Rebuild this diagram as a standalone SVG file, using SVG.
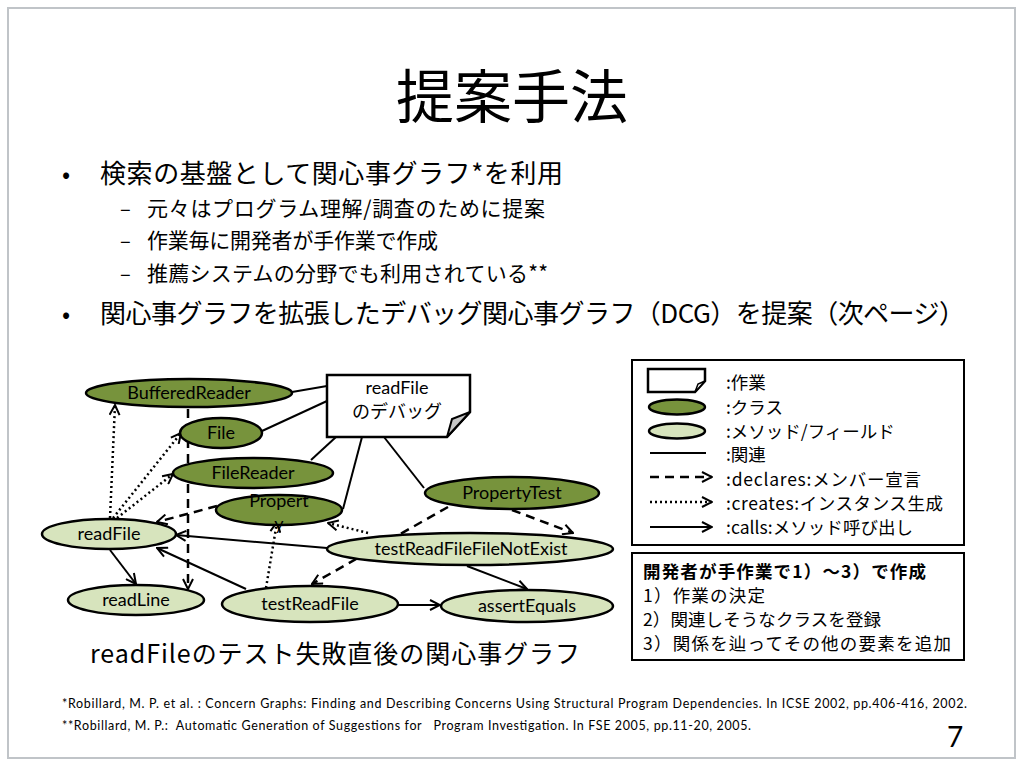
<svg xmlns="http://www.w3.org/2000/svg" width="1024" height="768" viewBox="0 0 1024 768">
<defs>
<style>
.jp{font-family:"Noto Sans CJK JP","Noto Sans",sans-serif;fill:#000}
.lb{font-family:Lato,"Noto Sans CJK JP",sans-serif;font-size:18px;fill:#000;text-anchor:middle}
.dark{fill:#77933c;stroke:#000;stroke-width:2.5}
.light{fill:#d7e4bd;stroke:#000;stroke-width:2.5}
.assoc{stroke:#000;stroke-width:2;fill:none}
.calls{stroke:#000;stroke-width:2;fill:none;marker-end:url(#arr)}
.decl{stroke:#000;stroke-width:2.5;fill:none;stroke-dasharray:9,6;marker-end:url(#arr)}
.crt{stroke:#000;stroke-width:2.5;fill:none;stroke-dasharray:2,3;marker-end:url(#arr)}
.box{fill:#fff;stroke:#000;stroke-width:2}
.ref{font-family:Lato,"Liberation Sans",sans-serif;font-size:12.5px;fill:#000}
</style>
<marker id="arr" viewBox="0 0 12 12" refX="11" refY="6" markerWidth="12" markerHeight="12" markerUnits="userSpaceOnUse" orient="auto">
<path d="M1,1 L11,6 L1,11" fill="none" stroke="#000" stroke-width="2" stroke-dasharray="none"/>
</marker>
</defs>
<rect x="0" y="0" width="1024" height="768" fill="#fff"/>
<rect x="8" y="8" width="1007" height="750" fill="#fff" stroke="#c0c4c8" stroke-width="2"/>

<text x="512" y="118" class="jp" font-size="58" text-anchor="middle">提案手法</text>

<g id="bullets">
<text x="62" y="183" class="jp" font-size="24">•</text>
<text x="100" y="183" class="jp" font-size="26" textLength="463">検索の基盤として関心事グラフ*を利用</text>
<text x="120" y="216" class="jp" font-size="20">–</text>
<text x="147" y="216" class="jp" font-size="21" textLength="398">元々はプログラム理解/調査のために提案</text>
<text x="120" y="248" class="jp" font-size="20">–</text>
<text x="147" y="248" class="jp" font-size="21" textLength="291">作業毎に開発者が手作業で作成</text>
<text x="120" y="281" class="jp" font-size="20">–</text>
<text x="147" y="281" class="jp" font-size="21" textLength="401">推薦システムの分野でも利用されている**</text>
<text x="62" y="323" class="jp" font-size="24">•</text>
<text x="100" y="323" class="jp" font-size="26" textLength="865">関心事グラフを拡張したデバッグ関心事グラフ（DCG）を提案（次ページ）</text>
</g>

<g id="connectors">
<line class="assoc" x1="327" y1="386" x2="292" y2="392"/>
<line class="assoc" x1="327" y1="401" x2="262" y2="431"/>
<line class="assoc" x1="336" y1="437" x2="311" y2="460"/>
<line class="assoc" x1="362" y1="437" x2="343" y2="509"/>
<line class="assoc" x1="384" y1="437" x2="424" y2="488"/>
<line class="decl" x1="188" y1="409" x2="188" y2="589"/>
<line class="decl" x1="217" y1="506" x2="157" y2="522"/>
<line class="decl" x1="448" y1="507" x2="312" y2="584"/>
<line class="decl" x1="512" y1="510" x2="573" y2="533"/>
<line class="crt" x1="110" y1="518" x2="115" y2="405"/>
<line class="crt" x1="113" y1="518" x2="181" y2="433"/>
<line class="crt" x1="117" y1="518" x2="173" y2="474"/>
<line class="crt" x1="266" y1="588" x2="277" y2="522"/>
<line class="crt" x1="368" y1="533" x2="328" y2="523"/>
<line class="calls" x1="327" y1="548" x2="176" y2="535"/>
<line class="calls" x1="246" y1="589" x2="157" y2="548"/>
<line class="calls" x1="110" y1="550" x2="136" y2="584"/>
<line class="calls" x1="398" y1="605" x2="440" y2="605"/>
<line class="calls" x1="467" y1="566" x2="527" y2="589"/>
</g>

<g id="note-readFile">
<path d="M327,375 H470 V412 L447,437 H327 Z" fill="#fff" stroke="#000" stroke-width="2.5"/>
<path d="M447,437 L452,419 L470,412 Z" fill="#c8c8c8" stroke="#000" stroke-width="2"/>
<text x="397" y="394" class="lb">readFile</text>
<text x="397" y="418" class="lb">のデバッグ</text>
</g>

<g id="node-BufferedReader">
<ellipse class="dark" cx="189" cy="393" rx="103" ry="14"/>
<text x="189" y="399" class="lb">BufferedReader</text>
</g>
<g id="node-File">
<ellipse class="dark" cx="221" cy="433" rx="41" ry="15"/>
<text x="221" y="439" class="lb">File</text>
</g>
<g id="node-FileReader">
<ellipse class="dark" cx="253" cy="473" rx="80" ry="15"/>
<text x="253" y="479" class="lb">FileReader</text>
</g>
<g id="node-Property">
<ellipse class="dark" cx="279" cy="510" rx="63" ry="15"/>
<text x="279" y="507" class="lb">Propert</text>
<text x="279" y="530" class="lb">y</text>
</g>
<g id="node-PropertyTest">
<ellipse class="dark" cx="512" cy="493" rx="87" ry="16"/>
<text x="512" y="499" class="lb">PropertyTest</text>
</g>
<g id="node-readFile">
<ellipse class="light" cx="109" cy="534" rx="67" ry="15"/>
<text x="109" y="540" class="lb">readFile</text>
</g>
<g id="node-testReadFileFileNotExist">
<ellipse class="light" cx="470" cy="549" rx="143" ry="16"/>
<text x="471" y="555" class="lb">testReadFileFileNotExist</text>
</g>
<g id="node-readLine">
<ellipse class="light" cx="136" cy="600" rx="68" ry="15"/>
<text x="136" y="606" class="lb">readLine</text>
</g>
<g id="node-testReadFile">
<ellipse class="light" cx="310" cy="604" rx="88" ry="18"/>
<text x="310" y="610" class="lb">testReadFile</text>
</g>
<g id="node-assertEquals">
<ellipse class="light" cx="527" cy="606" rx="86" ry="16"/>
<text x="527" y="612" class="lb">assertEquals</text>
</g>

<text x="90" y="663" class="jp" font-size="25" textLength="490">readFileのテスト失敗直後の関心事グラフ</text>

<g id="legend">
<rect class="box" x="632" y="360" width="332" height="185"/>
<path d="M648,369 H705 V381 L695,392 H648 Z" fill="#fff" stroke="#000" stroke-width="2.5"/>
<path d="M695,392 L698,384 L705,381 Z" fill="#fff" stroke="#000" stroke-width="1.5"/>
<ellipse class="dark" cx="677" cy="407" rx="28" ry="7.5"/>
<ellipse class="light" cx="677" cy="431" rx="28" ry="7.5"/>
<line class="assoc" x1="650" y1="453" x2="706" y2="453"/>
<line class="decl" x1="650" y1="477" x2="712" y2="477"/>
<line class="crt" x1="650" y1="502" x2="712" y2="502"/>
<line class="calls" x1="650" y1="527" x2="712" y2="527"/>
<g class="jp" font-size="17.5">
<text x="726" y="389">:作業</text>
<text x="726" y="414">:クラス</text>
<text x="726" y="438">:メソッド/フィールド</text>
<text x="726" y="461">:関連</text>
<text x="726" y="486" textLength="195">:declares:メンバー宣言</text>
<text x="726" y="510" textLength="217">:creates:インスタンス生成</text>
<text x="726" y="534" textLength="187">:calls:メソッド呼び出し</text>
</g>
</g>

<g id="steps">
<rect class="box" x="632" y="553" width="332" height="107"/>
<g class="jp" font-size="17.5">
<text x="643" y="578" font-weight="bold" textLength="283">開発者が手作業で1）～3）で作成</text>
<text x="643" y="602" textLength="122">1）作業の決定</text>
<text x="643" y="626" textLength="238">2）関連しそうなクラスを登録</text>
<text x="643" y="650" textLength="308">3）関係を辿ってその他の要素を追加</text>
</g>
</g>

<text x="62" y="708" class="ref" textLength="905">*Robillard, M. P. et al. : Concern Graphs: Finding and Describing Concerns Using Structural Program Dependencies. In ICSE 2002, pp.406-416, 2002.</text>
<text x="62" y="730" class="ref" textLength="689" xml:space="preserve">**Robillard, M. P.:  Automatic Generation of Suggestions for   Program Investigation. In FSE 2005, pp.11-20, 2005.</text>
<text x="955" y="747" font-family="Lato,'Liberation Sans',sans-serif" font-size="28" text-anchor="middle">7</text>
</svg>
